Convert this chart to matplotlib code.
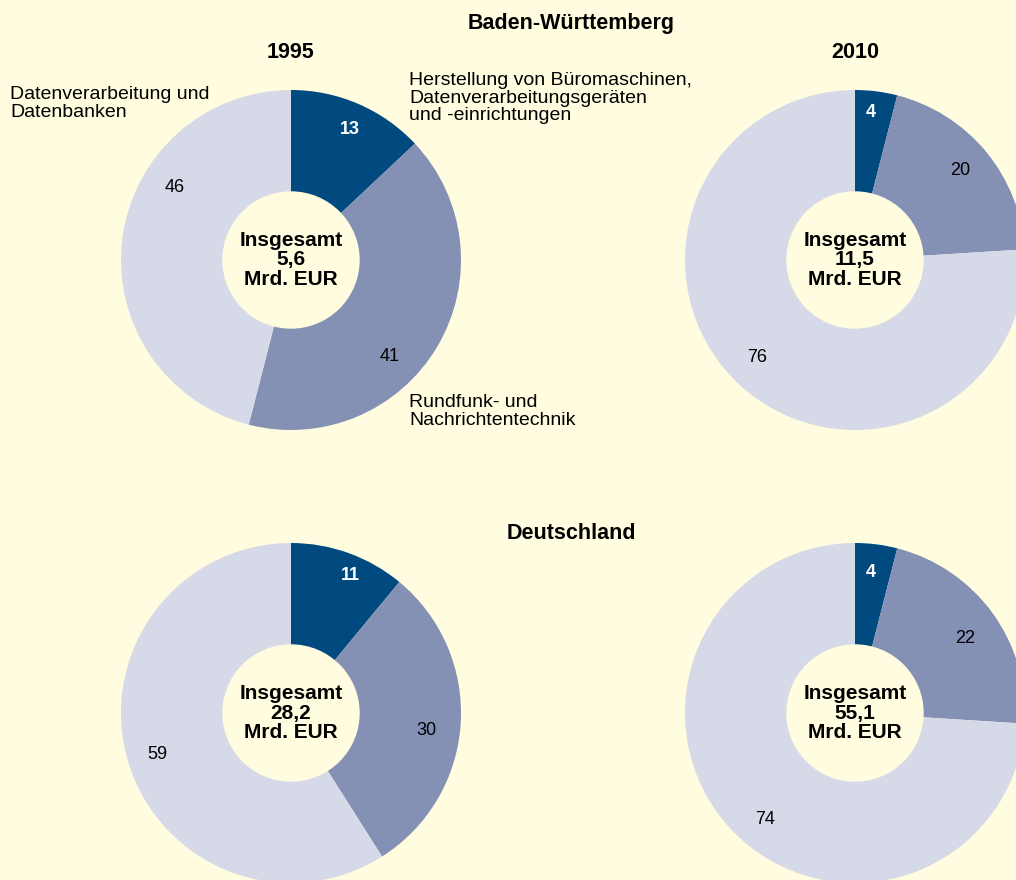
import matplotlib.pyplot as plt
from matplotlib import font_manager

# shares in percent: Herstellung / Rundfunk / Datenverarbeitung
bw_1995 = [13, 41, 46]
bw_2010 = [4, 20, 76]
de_1995 = [11, 30, 59]
de_2010 = [4, 22, 74]
totals = ['5,6', '11,5', '28,2', '55,1']

categories = ['Herstellung von Büromaschinen,\nDatenverarbeitungsgeräten\nund -einrichtungen',
              'Rundfunk- und\nNachrichtentechnik',
              'Datenverarbeitung und\nDatenbanken']

colors = ['#004a80', '#8490b4', '#d6d9e8']
bg = '#fffce0'

names = {f.name for f in font_manager.fontManager.ttflist}
font = 'Liberation Sans'
narrow = 'Liberation Sans Narrow' if 'Liberation Sans Narrow' in names else font

# label offsets relative to pie centre (in radius units)
label_pos = [
    [(0.347, 0.765), (0.582, -0.565), (-0.682, 0.429)],
    [(0.094, 0.865), (0.618, 0.529), (-0.576, -0.576)],
    [(0.347, 0.806), (0.794, -0.100), (-0.788, -0.247)],
    [(0.094, 0.829), (0.647, 0.441), (-0.529, -0.629)],
]

W, H = 1016, 880
fig = plt.figure(figsize=(W / 100, H / 100), dpi=100, facecolor=bg)

centers = [(291, 260), (855, 260), (291, 713), (855, 713)]
R = 170
datasets = [bw_1995, bw_2010, de_1995, de_2010]

for i, (vals, (cx, cy)) in enumerate(zip(datasets, centers)):
    ax = fig.add_axes([(cx - R) / W, (H - cy - R) / H, 2 * R / W, 2 * R / H])
    ax.set_facecolor('none')
    wedges, _ = ax.pie(vals, colors=colors, startangle=90, counterclock=False,
                       radius=1, wedgeprops=dict(linewidth=0))
    for w in wedges:
        w.set_clip_on(False)
    ax.add_patch(plt.Circle((0, 0), 0.4, color=bg, zorder=3, clip_on=False))
    ax.set_xlim(-1, 1)
    ax.set_ylim(-1, 1)
    ax.set_aspect('auto')
    ax.axis('off')
    for j, v in enumerate(vals):
        x, y = label_pos[i][j]
        if j == 0:
            ax.text(x, y, str(v), ha='center', va='center', color='white',
                    fontsize=13, fontweight='bold', family=font)
        else:
            ax.text(x, y, str(v), ha='center', va='center', color='black',
                    fontsize=13, family=font)
    ax.text(0, 0.0, 'Insgesamt\n' + totals[i] + '\nMrd. EUR', ha='center', va='center',
            fontsize=15, fontweight='bold', family=font, linespacing=1.06, zorder=4)

def ftext(x, y, s, **kw):
    fig.text(x / W, 1 - y / H, s, **kw)

ftext(571, 23, 'Baden-Württemberg', ha='center', va='center', fontsize=15.5,
      fontweight='bold', family=narrow)
ftext(291, 53, '1995', ha='center', va='center', fontsize=15.5, fontweight='bold', family=narrow)
ftext(855, 53, '2010', ha='center', va='center', fontsize=15.5, fontweight='bold', family=narrow)
ftext(571, 533, 'Deutschland', ha='center', va='center', fontsize=15.5,
      fontweight='bold', family=narrow)

ftext(409, 72, categories[0], ha='left', va='top', fontsize=14, family=font, linespacing=1.05)
ftext(409, 394, categories[1], ha='left', va='top', fontsize=14, family=font, linespacing=1.05)
ftext(10, 86, categories[2], ha='left', va='top', fontsize=14, family=font, linespacing=1.05)

fig.savefig('out.png', dpi=100, facecolor=bg)
